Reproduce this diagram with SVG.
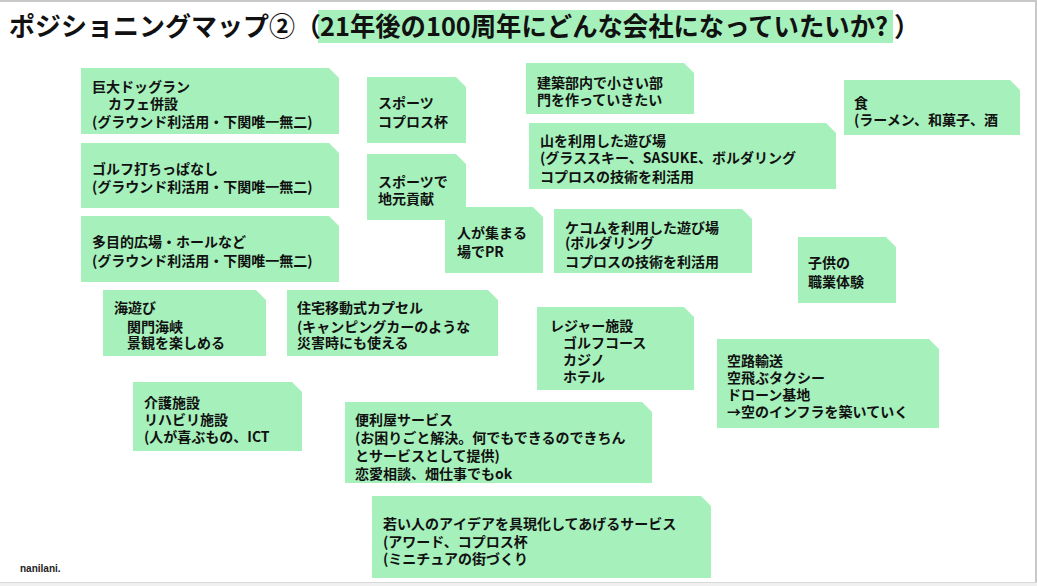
<svg xmlns="http://www.w3.org/2000/svg" width="1037" height="586" viewBox="0 0 1037 586">
<style>
.note{fill:#a6f0bb}
.t{font-family:"Noto Sans CJK JP","Liberation Sans",sans-serif;font-size:14px;font-weight:bold;fill:#111}
.title{font-family:"Noto Sans CJK JP","Liberation Sans",sans-serif;font-size:26px;font-weight:bold;fill:#111}
</style>
<rect x="0" y="0" width="1037" height="586" fill="#ffffff"/>
<rect x="0" y="0" width="1037" height="2" fill="#c8c8c8"/>
<rect x="1035" y="0" width="2" height="586" fill="#c8c8c8"/>
<rect x="0" y="582" width="1037" height="4" fill="#f0f0f0"/>
<line x1="0" y1="582.5" x2="1037" y2="582.5" stroke="#d8d8d8" stroke-width="1"/>

<g id="title">
<rect x="318" y="10" width="575" height="33" fill="#a6f0bb"/>
<text class="title" x="9" y="36">ポジショニングマップ②（</text>
<text class="title" x="320" y="36" textLength="568" lengthAdjust="spacingAndGlyphs">21年後の100周年にどんな会社になっていたいか?</text>
<text class="title" x="894" y="36">）</text>
</g>

<g id="n1"><path class="note" d="M81 68H329L339 78V134H81Z"/>
<text class="t"><tspan x="92" y="92">巨大ドッグラン</tspan><tspan x="108" y="109">カフェ併設</tspan><tspan x="92" y="127">(グラウンド利活用・下関唯一無二)</tspan></text></g>

<g id="n2"><path class="note" d="M81 143H329L339 153V208H81Z"/>
<text class="t"><tspan x="92" y="174">ゴルフ打ちっぱなし</tspan><tspan x="92" y="192">(グラウンド利活用・下関唯一無二)</tspan></text></g>

<g id="n3"><path class="note" d="M81 216H329L339 226V282H81Z"/>
<text class="t"><tspan x="92" y="247">多目的広場・ホールなど</tspan><tspan x="92" y="266">(グラウンド利活用・下関唯一無二)</tspan></text></g>

<g id="n4"><path class="note" d="M367 77H456L466 87V143H367Z"/>
<text class="t"><tspan x="378" y="108">スポーツ</tspan><tspan x="378" y="127">コプロス杯</tspan></text></g>

<g id="n5"><path class="note" d="M367 154H456L466 164V220H367Z"/>
<text class="t"><tspan x="378" y="187">スポーツで</tspan><tspan x="378" y="204">地元貢献</tspan></text></g>

<g id="n6"><path class="note" d="M445 207H533L543 217V273H445Z"/>
<text class="t"><tspan x="457" y="238">人が集まる</tspan><tspan x="457" y="257">場でPR</tspan></text></g>

<g id="n7"><path class="note" d="M526 63H684L694 73V114H526Z"/>
<text class="t"><tspan x="537" y="88">建築部内で小さい部</tspan><tspan x="537" y="105">門を作っていきたい</tspan></text></g>

<g id="n8"><path class="note" d="M529 123H826L836 133V189H529Z"/>
<text class="t"><tspan x="540" y="146">山を利用した遊び場</tspan><tspan x="540" y="163">(グラススキー、SASUKE、ボルダリング</tspan><tspan x="540" y="182">コプロスの技術を利活用</tspan></text></g>

<g id="n9"><path class="note" d="M554 209H742L752 219V273H554Z"/>
<text class="t"><tspan x="565" y="233">ケコムを利用した遊び場</tspan><tspan x="565" y="248">(ボルダリング</tspan><tspan x="565" y="267">コプロスの技術を利活用</tspan></text></g>

<g id="n10"><path class="note" d="M844 80H1010L1020 90V135H844Z"/>
<text class="t"><tspan x="854" y="108">食</tspan><tspan x="854" y="125">(ラーメン、和菓子、酒</tspan></text></g>

<g id="n11"><path class="note" d="M798 237H886L896 247V303H798Z"/>
<text class="t"><tspan x="808" y="268">子供の</tspan><tspan x="808" y="287">職業体験</tspan></text></g>

<g id="n12"><path class="note" d="M103 290H256L266 300V356H103Z"/>
<text class="t"><tspan x="114" y="313">海遊び</tspan><tspan x="127" y="332">関門海峡</tspan><tspan x="127" y="348">景観を楽しめる</tspan></text></g>

<g id="n13"><path class="note" d="M287 290H488L498 300V356H287Z"/>
<text class="t"><tspan x="297" y="313">住宅移動式カプセル</tspan><tspan x="297" y="332">(キャンピングカーのような</tspan><tspan x="297" y="348">災害時にも使える</tspan></text></g>

<g id="n14"><path class="note" d="M133 382H292L302 392V451H133Z"/>
<text class="t"><tspan x="144" y="408">介護施設</tspan><tspan x="144" y="425">リハビリ施設</tspan><tspan x="144" y="442">(人が喜ぶもの、ICT</tspan></text></g>

<g id="n15"><path class="note" d="M537 307H684L694 317V390H537Z"/>
<text class="t"><tspan x="550" y="331">レジャー施設</tspan><tspan x="563" y="348">ゴルフコース</tspan><tspan x="563" y="365">カジノ</tspan><tspan x="563" y="382">ホテル</tspan></text></g>

<g id="n16"><path class="note" d="M717 339H929L939 349V428H717Z"/>
<text class="t"><tspan x="727" y="366">空路輸送</tspan><tspan x="727" y="383">空飛ぶタクシー</tspan><tspan x="727" y="400">ドローン基地</tspan><tspan x="727" y="417">→空のインフラを築いていく</tspan></text></g>

<g id="n17"><path class="note" d="M345 402H642L652 412V483H345Z"/>
<text class="t"><tspan x="355" y="425">便利屋サービス</tspan><tspan x="355" y="443">(お困りごと解決。何でもできるのできちん</tspan><tspan x="355" y="461">とサービスとして提供)</tspan><tspan x="355" y="479">恋愛相談、畑仕事でもok</tspan></text></g>

<g id="n18"><path class="note" d="M372 496H701L711 506V578H372Z"/>
<text class="t"><tspan x="383" y="529">若い人のアイデアを具現化してあげるサービス</tspan><tspan x="383" y="547">(アワード、コプロス杯</tspan><tspan x="383" y="564">(ミニチュアの街づくり</tspan></text></g>

<g id="connectors"></g>

<text x="20" y="572" style="font-family:'Liberation Sans',sans-serif;font-size:10px;font-weight:bold;fill:#222">nanilani.</text>
</svg>
